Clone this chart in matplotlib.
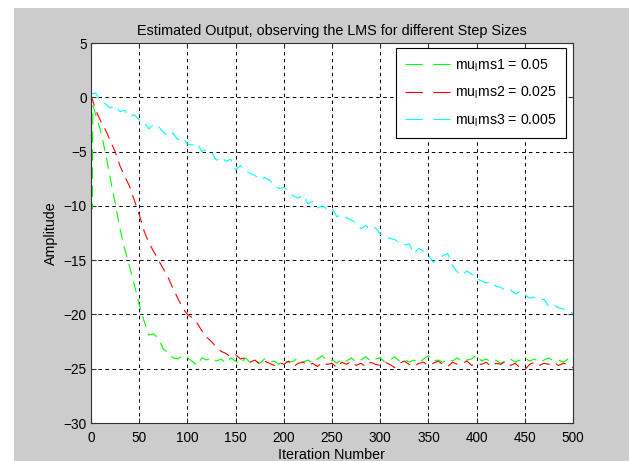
"""LMS estimated output for three step sizes (MATLAB-style figure)."""
import matplotlib

matplotlib.use("Agg")
import matplotlib.pyplot as plt  # noqa: E402
import numpy as np  # noqa: E402
from matplotlib.patches import Rectangle  # noqa: E402

plt.rcParams["font.family"] = ["Liberation Sans", "DejaVu Sans"]
plt.rcParams["mathtext.fontset"] = "custom"
plt.rcParams["mathtext.rm"] = "Liberation Sans"
plt.rcParams["lines.scale_dashes"] = False

# iteration grid (every 5th sample)
iters = list(range(0, 501, 5))

# green: first few samples (sharp dip at start), then every 5th from 5
green_head_x = [0, 1, 2]
green_head_y = [0.2, -10.3, -0.8]
green = [
    -1.6, -3.1, -5.1, -7.5, -9.7, -12.1, -14.0, -15.6, -17.3, -19.1,
    -20.6, -21.9, -21.8, -22.2, -23.2, -23.5, -24.0, -24.1, -23.8, -24.0,
    -24.3, -24.7, -24.0, -24.2, -24.0, -24.3, -24.1, -24.5, -24.0, -24.3,
    -24.6, -24.0, -24.4, -24.2, -24.5, -24.1, -24.4, -24.3, -24.6, -24.2,
    -24.4, -24.3, -24.0, -24.4, -24.2, -24.5, -24.1, -23.8, -24.3, -24.2,
    -24.5, -24.1, -24.3, -24.0, -24.4, -24.2, -23.9, -24.3, -24.1, -24.0,
    -24.4, -24.2, -23.9, -24.3, -24.1, -24.4, -24.2, -24.5, -24.1, -23.8,
    -24.3, -24.2, -24.4, -24.1, -24.3, -24.0, -24.4, -24.2, -24.1, -23.7,
    -24.3, -24.1, -24.4, -24.2, -24.5, -24.3, -24.1, -24.4, -24.2, -24.0,
    -24.3, -24.1, -24.4, -24.2, -24.0, -24.3, -24.2, -24.4, -24.1, -24.3,
]
red = [
    0.2, -1.2, -2.2, -3.0, -4.0, -5.0, -6.3, -7.3, -8.2, -9.5,
    -10.8, -12.3, -13.4, -14.2, -15.0, -15.8, -16.6, -17.6, -18.5, -19.4,
    -20.0, -20.3, -20.8, -21.5, -22.1, -22.5, -23.0, -23.4, -23.6, -23.9,
    -23.7, -24.1, -24.0, -24.4, -24.2, -24.6, -24.3, -24.5, -24.7, -24.4,
    -24.6, -24.3, -24.8, -24.5, -24.4, -24.7, -24.5, -24.8, -24.4, -24.6,
    -24.5, -24.9, -24.4, -24.6, -24.3, -24.7, -24.5, -24.8, -24.4, -24.6,
    -24.7, -24.4, -24.6, -24.9, -24.5, -24.3, -24.6, -24.8, -24.5, -24.4,
    -24.7, -24.5, -24.3, -24.6, -24.8, -24.4, -24.6, -24.5, -24.3, -24.7,
    -24.5, -24.6, -24.4, -24.8, -24.5, -24.6, -24.3, -24.7, -24.5, -24.9,
    -25.1, -24.6, -24.4, -24.7, -24.5, -24.6, -24.4, -24.7, -24.5, -24.6,
    -24.9,
]
cyan = [
    0.3, 0.4, -0.4, -0.6, -1.0, -0.8, -1.3, -1.2, -1.8, -1.6,
    -2.1, -2.3, -2.9, -2.5, -2.7, -3.2, -3.6, -3.3, -3.9, -3.7,
    -4.3, -4.4, -4.2, -5.0, -4.8, -5.1, -5.8, -5.5, -5.9, -5.7,
    -6.7, -6.3, -6.8, -7.0, -7.2, -7.6, -7.4, -7.6, -8.1, -8.4,
    -8.3, -8.6, -9.1, -9.3, -9.0, -9.8, -9.6, -10.2, -10.0, -10.3,
    -10.2, -11.0, -10.8, -11.1, -11.3, -11.6, -12.1, -11.8, -12.2, -12.0,
    -12.6, -12.8, -13.0, -13.1, -13.4, -13.6, -13.5, -14.4, -13.9, -14.2,
    -14.5, -15.2, -14.8, -14.6, -14.4, -15.5, -16.1, -16.4, -16.0, -16.3,
    -16.7, -16.9, -17.1, -17.0, -17.4, -17.5, -17.8, -17.7, -18.1, -17.9,
    -18.2, -18.5, -18.4, -18.7, -18.6, -19.3, -19.1, -19.4, -19.5, -19.7,
    -19.9,
]
labels = [r"mu$_{\rm l}$ms1 = 0.05", r"mu$_{\rm l}$ms2 = 0.025", r"mu$_{\rm l}$ms3 = 0.005"]
colors = ["#00FF00", "#FF0000", "#00FFFF"]

W, H = 629, 461


def main() -> None:
    fig = plt.figure(figsize=(W / 100, H / 100), dpi=100, facecolor="white")
    fig.patches.append(Rectangle((14 / W, 0), 1 - 14 / W, 1 - 8 / H,
                                 transform=fig.transFigure, facecolor="#CCCCCC",
                                 edgecolor="none", zorder=-10))
    ax = fig.add_axes([91 / W, 1 - 423 / H, 482 / W, 380 / H])
    ax.set_facecolor("white")

    gx = green_head_x + iters[1:]
    gy = green_head_y + green
    series = [(gx, gy), (iters, red), (iters, cyan)]
    for (x, y), c, lab in zip(series, colors, labels):
        ax.plot(x, np.asarray(y), color=c, lw=0.8, dashes=(8, 5), label=lab)

    ax.set_xlim(0, 500)
    ax.set_ylim(-30, 5)
    ax.set_xticks(range(0, 501, 50))
    ax.set_yticks(range(-30, 6, 5))
    ax.grid(True, color="black", lw=0.7, dashes=(2.5, 2.5))
    ax.tick_params(direction="in", length=3.5, top=True, right=True,
                   labelsize=9.8, colors="#333333", labelcolor="black", pad=3)
    ax.tick_params(axis="x", pad=6)
    for sp in ax.spines.values():
        sp.set_color("#333333")
        sp.set_linewidth(0.8)

    ax.set_title("Estimated Output, observing the LMS for different Step Sizes",
                 fontsize=10.4, pad=6)
    ax.set_xlabel("Iteration Number", fontsize=10.3, labelpad=2)
    ax.set_ylabel("Amplitude", fontsize=10.3, labelpad=4)

    leg = ax.legend(loc="upper right", bbox_to_anchor=(1 - 7 / 482, 1 - 5 / 380),
                    borderaxespad=0, fontsize=10.2, fancybox=False, framealpha=1,
                    handlelength=3.15, labelspacing=0.78, borderpad=0.65,
                    handletextpad=0.35)
    leg.get_frame().set_edgecolor("black")
    leg.get_frame().set_linewidth(0.8)
    for h in leg.get_lines():
        h.set_dashes((12.5, 7.5))

    fig.savefig("out.png", dpi=100, facecolor=fig.get_facecolor())
    plt.close(fig)


if __name__ == "__main__":
    main()
